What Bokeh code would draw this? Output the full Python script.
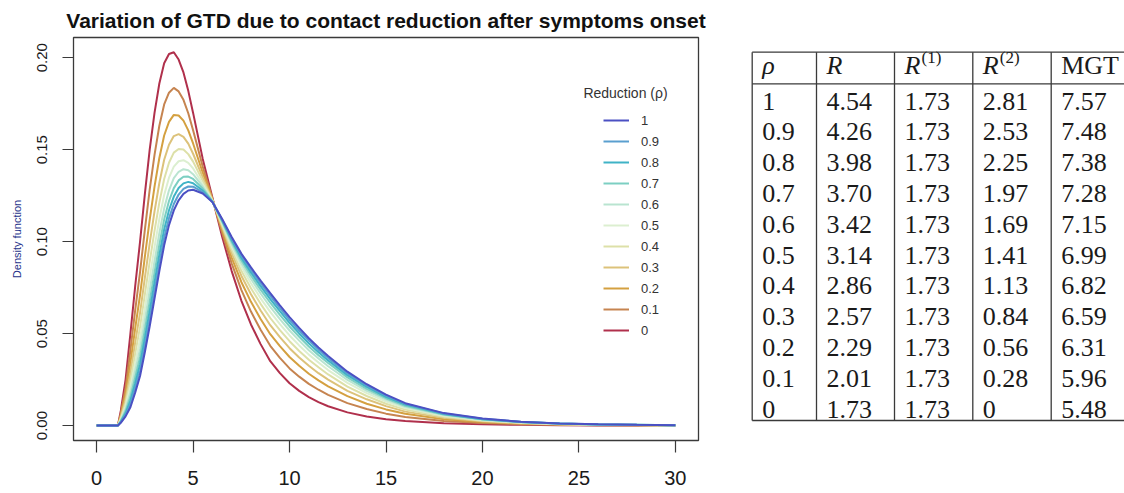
from bokeh.plotting import figure
from bokeh.models import (Range1d, Legend, LegendItem, Label, FixedTicker,
                          PrintfTickFormatter)
from bokeh.layouts import row
from bokeh.embed import file_html
from bokeh.resources import INLINE
from bokeh.core.properties import value

# ---------------- data ----------------
days = [0, 1.1, 1.25, 1.5, 1.75, 2.0, 2.25, 2.5, 2.75, 3.0, 3.25, 3.5, 3.75, 4.0,
        4.25, 4.5, 4.75, 5.0, 5.5, 6.0, 6.5, 7.0, 7.5, 8.0, 8.5, 9.0, 9.5, 10, 10.5,
        11, 11.5, 12, 13, 14, 15, 16, 18, 20, 22, 24, 26, 28, 30]

rho_labels = ["1", "0.9", "0.8", "0.7", "0.6", "0.5", "0.4", "0.3", "0.2", "0.1", "0"]

dens_rho_10 = [0, 0, 0.0015, 0.005, 0.010, 0.018, 0.027, 0.040, 0.054, 0.069, 0.084, 0.098, 0.109, 0.117, 0.1225, 0.126, 0.1278, 0.1282, 0.1262, 0.1215, 0.1125, 0.1025, 0.0935, 0.086, 0.0788, 0.072, 0.0654, 0.059, 0.0531, 0.0475, 0.0425, 0.0378, 0.0293, 0.0225, 0.0168, 0.0122, 0.0068, 0.0038, 0.0021, 0.0012, 0.0007, 0.0004, 0.0002]
dens_rho_09 = [0, 0, 0.0018, 0.0058, 0.0116, 0.0204, 0.0300, 0.0435, 0.0579, 0.0731, 0.0882, 0.1021, 0.1128, 0.1205, 0.1256, 0.1287, 0.1300, 0.1299, 0.1270, 0.1216, 0.1121, 0.1017, 0.0925, 0.0847, 0.0774, 0.0705, 0.0639, 0.0575, 0.0517, 0.0462, 0.0413, 0.0367, 0.0284, 0.0218, 0.0163, 0.0118, 0.0066, 0.0037, 0.0020, 0.0012, 0.0007, 0.0004, 0.0002]
dens_rho_08 = [0, 0, 0.0021, 0.0067, 0.0135, 0.0230, 0.0334, 0.0475, 0.0624, 0.0778, 0.0929, 0.1066, 0.1171, 0.1245, 0.1292, 0.1317, 0.1325, 0.1318, 0.1278, 0.1217, 0.1117, 0.1009, 0.0913, 0.0833, 0.0758, 0.0688, 0.0622, 0.0559, 0.0501, 0.0447, 0.0399, 0.0354, 0.0274, 0.0210, 0.0156, 0.0114, 0.0063, 0.0035, 0.0020, 0.0011, 0.0006, 0.0004, 0.0002]
dens_rho_07 = [0, 0, 0.0024, 0.0078, 0.0156, 0.0262, 0.0373, 0.0521, 0.0675, 0.0832, 0.0984, 0.1120, 0.1221, 0.1291, 0.1333, 0.1353, 0.1354, 0.1341, 0.1289, 0.1219, 0.1112, 0.0999, 0.0899, 0.0816, 0.0739, 0.0668, 0.0602, 0.0539, 0.0483, 0.0430, 0.0383, 0.0340, 0.0262, 0.0200, 0.0149, 0.0108, 0.0060, 0.0034, 0.0019, 0.0011, 0.0006, 0.0004, 0.0002]
dens_rho_06 = [0, 0, 0.0028, 0.0091, 0.0181, 0.0298, 0.0418, 0.0575, 0.0735, 0.0895, 0.1047, 0.1181, 0.1279, 0.1345, 0.1380, 0.1394, 0.1388, 0.1367, 0.1300, 0.1220, 0.1106, 0.0987, 0.0883, 0.0797, 0.0718, 0.0645, 0.0579, 0.0517, 0.0462, 0.0410, 0.0365, 0.0323, 0.0248, 0.0189, 0.0141, 0.0102, 0.0057, 0.0032, 0.0018, 0.0010, 0.0006, 0.0003, 0.0002]
dens_rho_05 = [0, 0, 0.0033, 0.0105, 0.0211, 0.0341, 0.0472, 0.0638, 0.0806, 0.0970, 0.1123, 0.1254, 0.1348, 0.1408, 0.1437, 0.1443, 0.1428, 0.1398, 0.1314, 0.1222, 0.1099, 0.0974, 0.0864, 0.0774, 0.0692, 0.0618, 0.0552, 0.0490, 0.0436, 0.0386, 0.0343, 0.0302, 0.0232, 0.0177, 0.0131, 0.0095, 0.0053, 0.0029, 0.0016, 0.0009, 0.0005, 0.0003, 0.0001]
dens_rho_04 = [0, 0, 0.0039, 0.0123, 0.0246, 0.0392, 0.0536, 0.0714, 0.0890, 0.1059, 0.1212, 0.1341, 0.1429, 0.1484, 0.1504, 0.1501, 0.1476, 0.1435, 0.1331, 0.1224, 0.1090, 0.0957, 0.0842, 0.0747, 0.0662, 0.0585, 0.0519, 0.0459, 0.0406, 0.0358, 0.0317, 0.0278, 0.0212, 0.0161, 0.0119, 0.0087, 0.0048, 0.0027, 0.0015, 0.0008, 0.0005, 0.0003, 0.0001]
dens_rho_03 = [0, 0, 0.0046, 0.0144, 0.0288, 0.0453, 0.0613, 0.0804, 0.0991, 0.1165, 0.1319, 0.1445, 0.1527, 0.1574, 0.1585, 0.1570, 0.1533, 0.1478, 0.1350, 0.1227, 0.1080, 0.0938, 0.0815, 0.0714, 0.0626, 0.0546, 0.0481, 0.0421, 0.0370, 0.0325, 0.0285, 0.0250, 0.0189, 0.0143, 0.0106, 0.0076, 0.0042, 0.0023, 0.0013, 0.0007, 0.0004, 0.0003, 0.0001]
dens_rho_02 = [0, 0, 0.0054, 0.0171, 0.0341, 0.0530, 0.0710, 0.0919, 0.1119, 0.1299, 0.1455, 0.1577, 0.1651, 0.1689, 0.1686, 0.1658, 0.1605, 0.1534, 0.1375, 0.1230, 0.1068, 0.0913, 0.0781, 0.0673, 0.0580, 0.0497, 0.0432, 0.0373, 0.0325, 0.0282, 0.0246, 0.0213, 0.0160, 0.0119, 0.0088, 0.0064, 0.0035, 0.0019, 0.0011, 0.0006, 0.0003, 0.0002, 0.0001]
dens_rho_01 = [0, 0, 0.0065, 0.0205, 0.0410, 0.0629, 0.0835, 0.1066, 0.1283, 0.1472, 0.1630, 0.1746, 0.1810, 0.1836, 0.1817, 0.1771, 0.1698, 0.1606, 0.1408, 0.1234, 0.1051, 0.0882, 0.0738, 0.0620, 0.0521, 0.0434, 0.0368, 0.0311, 0.0266, 0.0227, 0.0195, 0.0167, 0.0122, 0.0090, 0.0065, 0.0047, 0.0025, 0.0014, 0.0008, 0.0004, 0.0002, 0.0002, 0.0000]
dens_rho_00 = [0, 0, 0.008, 0.025, 0.050, 0.076, 0.100, 0.126, 0.150, 0.170, 0.186, 0.197, 0.202, 0.203, 0.199, 0.192, 0.182, 0.170, 0.145, 0.124, 0.103, 0.084, 0.068, 0.055, 0.0443, 0.035, 0.0285, 0.023, 0.0189, 0.0155, 0.0128, 0.0105, 0.0072, 0.005, 0.0035, 0.0025, 0.0013, 0.0007, 0.0004, 0.0002, 0.0001, 0.0001, 0.0]

x_ticks = [0, 5, 10, 15, 20, 25, 30]
y_ticks = [0.0, 0.05, 0.10, 0.15, 0.20]

# table values
tbl_header = ["\u03c1", "R", "R", "R", "MGT"]
tbl_rho = ["1", "0.9", "0.8", "0.7", "0.6", "0.5", "0.4", "0.3", "0.2", "0.1", "0"]
tbl_R = ["4.54", "4.26", "3.98", "3.70", "3.42", "3.14", "2.86", "2.57", "2.29", "2.01", "1.73"]
tbl_R1 = ["1.73"] * 11
tbl_R2 = ["2.81", "2.53", "2.25", "1.97", "1.69", "1.41", "1.13", "0.84", "0.56", "0.28", "0"]
tbl_MGT = ["7.57", "7.48", "7.38", "7.28", "7.15", "6.99", "6.82", "6.59", "6.31", "5.96", "5.48"]

# ---------------- styling ----------------
curves = [dens_rho_10, dens_rho_09, dens_rho_08, dens_rho_07, dens_rho_06, dens_rho_05,
          dens_rho_04, dens_rho_03, dens_rho_02, dens_rho_01, dens_rho_00]
line_colors = ["#4B50C3", "#5A9FCF", "#3FB3C6", "#7CCFC2", "#B9E4D0", "#DCEFD0",
               "#DDE0A8", "#DCC27A", "#D4A040", "#C68450", "#B0304C"]

SANS = "Liberation Sans"
W1, H = 730, 493
TOP, BOT = 37, 53

p = figure(width=W1, height=H, output_backend="svg", toolbar_location=None,
           x_range=Range1d(-1.2, 31.2), y_range=Range1d(-0.0081, 0.2110),
           min_border_left=73, min_border_right=32, min_border_top=TOP,
           min_border_bottom=BOT, background_fill_color="white",
           border_fill_color="white")
p.grid.visible = False
p.outline_line_color = "#3a3a3a"
p.outline_line_width = 1.3

p.title.text = "Variation of GTD due to contact reduction after symptoms onset"
p.title.align = "center"
p.title.text_font = SANS
p.title.text_font_style = "bold"
p.title.text_font_size = "21px"
p.title.text_color = "#111111"
p.title.standoff = 12

renderers = {}
for lab, ys, col in reversed(list(zip(rho_labels, curves, line_colors))):
    renderers[lab] = p.line(days, ys, line_color=col, line_width=2)

for ax in (p.xaxis[0], p.yaxis[0]):
    ax.axis_line_color = None
    ax.major_tick_line_color = "#3a3a3a"
    ax.major_tick_line_width = 1.2
    ax.major_tick_in = 0
    ax.minor_tick_line_color = None
    ax.major_label_text_color = "#1a1a1a"
    ax.major_label_text_font = SANS

p.xaxis.ticker = FixedTicker(ticks=x_ticks)
p.xaxis.major_tick_out = 12
p.xaxis.major_label_text_font_size = "20px"
p.xaxis.major_label_standoff = 18

p.yaxis.ticker = FixedTicker(ticks=y_ticks)
p.yaxis.formatter = PrintfTickFormatter(format="%.2f")
p.yaxis.major_label_orientation = "vertical"
p.yaxis.major_tick_out = 11
p.yaxis.major_label_text_font_size = "15px"
p.yaxis.major_label_standoff = 15
p.yaxis.axis_label = "Density function"
p.yaxis.axis_label_text_font = SANS
p.yaxis.axis_label_text_font_style = "normal"
p.yaxis.axis_label_text_font_size = "11px"
p.yaxis.axis_label_text_color = "#27338A"
p.yaxis.axis_label_standoff = 12

items = [LegendItem(label=lab, renderers=[renderers[lab]]) for lab in rho_labels]
legend = Legend(items=items, location=(530, 101), padding=0, margin=0, spacing=3,
                glyph_height=18, glyph_width=26, label_height=18, label_standoff=12,
                label_text_font=SANS, label_text_font_size="13px",
                label_text_color="#333333", border_line_color=None,
                background_fill_alpha=0)
p.add_layout(legend)

p.add_layout(Label(x=552, y=348, x_units="screen", y_units="screen",
                   text="Reduction (\u03c1)", text_align="center", text_baseline="middle",
                   text_font=SANS, text_font_size="14px", text_color="#333333"))

# ---------------- table (data units = page pixels) ----------------
W2 = 1124 - W1
t = figure(width=W2, height=H, output_backend="svg", toolbar_location=None,
           x_range=Range1d(W1, 1124), y_range=Range1d(H - BOT, TOP),
           min_border_left=0, min_border_right=0, min_border_top=TOP,
           min_border_bottom=BOT, x_axis_location=None, y_axis_location=None,
           outline_line_color=None, background_fill_color="white",
           border_fill_color="white")
t.grid.visible = False

col_x = [751.7, 816.0, 894.0, 972.3, 1050.7]
top_y, head_y, bot_y = 51.7, 83.3, 420.0
row_c0, row_h = 100.0, 30.8
RULE = "#3a3a3a"

t.segment(x0=[col_x[0]] * 3, y0=[top_y, head_y, bot_y], x1=[1124] * 3,
          y1=[top_y, head_y, bot_y], line_color=RULE, line_width=1.3)
t.segment(x0=col_x, y0=[top_y] * 5, x1=col_x, y1=[bot_y] * 5,
          line_color=RULE, line_width=1.3)

SERIF = "Liberation Serif"
cols = [tbl_rho, tbl_R, tbl_R1, tbl_R2, tbl_MGT]
xs, ys, txt = [], [], []
for j, col in enumerate(cols):
    for i, s in enumerate(col):
        xs.append(col_x[j] + 10)
        ys.append(row_c0 + i * row_h + 0.5)
        txt.append(s)
t.text(x=xs, y=ys, text=txt, text_font=value(SERIF), text_font_size="26px",
       text_baseline="alphabetic", text_align="left", text_color="#1a1a1a")

# header
hx = [c + 10 for c in col_x]
hb = 65.0
t.text(x=hx[:4], y=[hb] * 4, text=tbl_header[:4], text_font=value(SERIF),
       text_font_style="italic", text_font_size="26px", text_baseline="alphabetic",
       text_color="#1a1a1a")
t.text(x=[hx[4]], y=[hb], text=[tbl_header[4]], text_font=value(SERIF),
       text_font_size="26px", text_baseline="alphabetic", text_color="#1a1a1a")
t.text(x=[hx[2] + 17, hx[3] + 17], y=[hb - 8, hb - 8], text=["(1)", "(2)"],
       text_font=value(SERIF), text_font_size="17px", text_baseline="alphabetic",
       text_color="#1a1a1a")

layout = row(p, t)
open("out.html", "w").write(file_html(layout, INLINE))
